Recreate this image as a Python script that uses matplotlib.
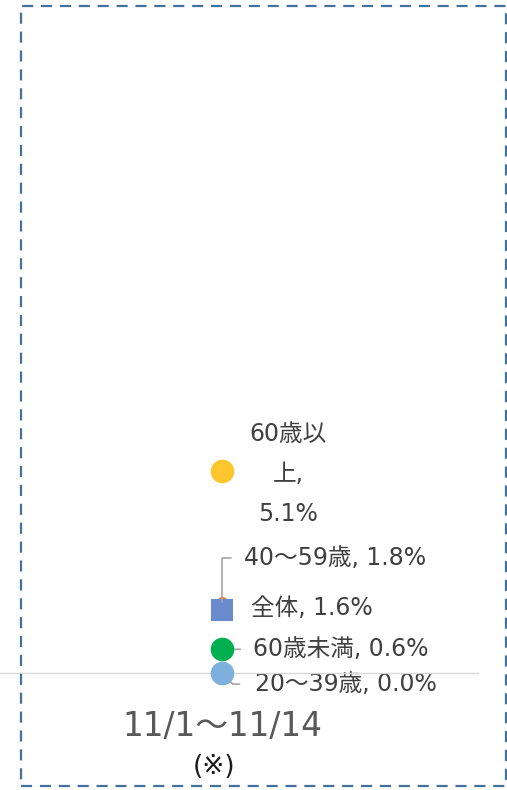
import matplotlib
matplotlib.use("Agg")
import matplotlib.pyplot as plt
from matplotlib.patches import Rectangle

plt.rcParams['font.family'] = ['DejaVu Sans', 'Noto Sans CJK JP']

category = ["11/1～11/14"]
note = "(※)"
series_names = ["60歳以上", "40～59歳", "全体", "60歳未満", "20～39歳"]
series_values = [5.1, 1.8, 1.6, 0.6, 0.0]
series_colors = ["#FFC62E", "#ED7D31", "#6A8CCE", "#00B050", "#7DB0DD"]
series_markers = ["o", "o", "s", "o", "o"]

fig = plt.figure(figsize=(5.07, 7.90), dpi=100)
ax = fig.add_axes([0.0, 0.148, 0.943, 0.8025])
ax.set_ylim(0, 16)
ax.set_xlim(-0.464, 0.536)

for s in ["top", "right", "left"]:
    ax.spines[s].set_visible(False)
ax.spines["bottom"].set_color("#D9D9D9")
ax.spines["bottom"].set_linewidth(1.0)
ax.set_yticks([])
ax.set_xticks([])

order = [1, 2, 0, 3, 4]
for i in order:
    ms = 16 if series_markers[i] == "s" else 17
    if series_names[i] == "40～59歳":
        ms = 8
    ax.plot([0], [series_values[i]], marker=series_markers[i], color=series_colors[i],
            markersize=ms, markeredgewidth=0, linestyle="none", clip_on=False, zorder=3)

lab_col = "#404040"
lead_col = "#A6A6A6"
fs = 17

def lab(i):
    return f"{series_names[i]}, {series_values[i]:.1f}%"

# 60歳以上 (wrapped)
ax.annotate("60歳以\n上,\n" + f"{series_values[0]:.1f}%", xy=(0, series_values[0]),
            xytext=(66, -3), textcoords="offset pixels", ha="center", va="center",
            fontsize=fs, color=lab_col, linespacing=1.82, zorder=5)
# 40～59歳
ax.annotate(lab(1), xy=(0, series_values[1]), xytext=(22, 44), textcoords="offset pixels",
            ha="left", va="center", fontsize=fs, color=lab_col, zorder=5,
            arrowprops=dict(arrowstyle="-", color=lead_col, lw=1.2, relpos=(0, 0.5),
                            shrinkA=7, shrinkB=0,
                            connectionstyle="angle,angleA=0,angleB=90,rad=0"))
# 全体
ax.annotate(lab(2), xy=(0, series_values[2]), xytext=(29, 2), textcoords="offset pixels",
            ha="left", va="center", fontsize=fs, color=lab_col, zorder=5)
# 60歳未満
ax.annotate(lab(3), xy=(0, series_values[3]), xytext=(31, 0), textcoords="offset pixels",
            ha="left", va="center", fontsize=fs, color=lab_col, zorder=2,
            arrowprops=dict(arrowstyle="-", color=lead_col, lw=1.2, relpos=(0, 0.5),
                            shrinkA=7, shrinkB=2))
# 20～39歳
ax.annotate(lab(4), xy=(0, series_values[4]), xytext=(33, -11), textcoords="offset pixels",
            ha="left", va="center", fontsize=fs, color=lab_col, zorder=2,
            arrowprops=dict(arrowstyle="-", color=lead_col, lw=1.2, relpos=(0, 0.5),
                            shrinkA=9, shrinkB=2,
                            connectionstyle="angle,angleA=0,angleB=-45,rad=0"))

# category label
trans = ax.get_xaxis_transform()
ax.annotate(category[0], xy=(0, 0), xycoords=trans, xytext=(1, -53), textcoords="offset pixels",
            ha="center", va="center", fontsize=23.5, color="#595959")
ax.annotate(note, xy=(0, 0), xycoords=trans, xytext=(-8, -94), textcoords="offset pixels",
            ha="center", va="center", fontsize=19, color="#1A1A1A")

# dashed border
W, H = 507, 790
rect = Rectangle((21 / W, 4 / H), (506 - 21) / W, (784 - 4) / H, transform=fig.transFigure,
                 fill=False, edgecolor="#41719C", linewidth=1.6, linestyle=(0, (5, 3.5)),
                 clip_on=False)
fig.add_artist(rect)

fig.savefig("out.png", dpi=100)
